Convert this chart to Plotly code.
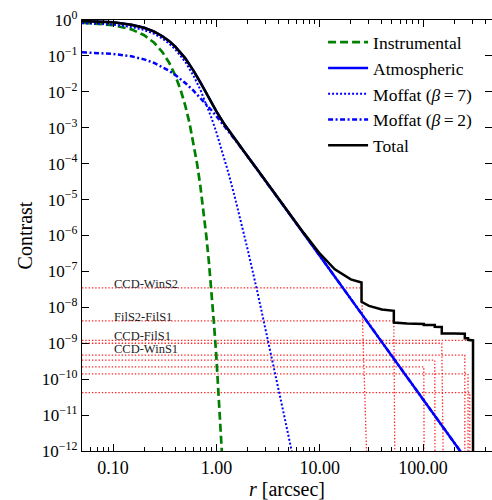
import math
import plotly.graph_objects as go

# ---------------- data ----------------
# Instrumental PSF (green dashed)
inst_r = [0.05, 0.1, 0.15, 0.2, 0.25, 0.3, 0.35, 0.4, 0.45, 0.5, 0.55, 0.6, 0.65,
          0.7, 0.75, 0.8, 0.85, 0.9, 0.95, 1.0, 1.05, 1.1, 1.15]
inst_c = [0.845, 0.718, 0.549, 0.377, 0.232, 0.128, 0.0638, 0.0284, 0.0114, 4.1e-3,
          1.32e-3, 3.84e-4, 1.0e-4, 2.34e-5, 4.9e-6, 9.25e-7, 1.57e-7, 2.4e-8, 3.2e-9,
          4.0e-10, 4.4e-11, 4.4e-12, 3.8e-13]

# Moffat beta=7 (blue dotted)
m7_r = [0.05, 0.07, 0.1, 0.15, 0.2, 0.25, 0.3, 0.35, 0.4, 0.5, 0.6, 0.7, 0.8, 0.9,
        1.0, 1.1, 1.2, 1.3, 1.5, 1.75, 2.0, 2.5, 3.0, 3.5, 4.0, 4.5, 5.0, 5.5, 6.0]
m7_c = [0.815, 0.792, 0.745, 0.643, 0.5257, 0.4093, 0.3048, 0.2186, 0.1517, 0.0678,
        0.02827, 0.0114, 4.54e-3, 1.819e-3, 7.41e-4, 3.09e-4, 1.324e-4, 5.85e-5,
        1.247e-5, 2.13e-6, 4.28e-7, 2.6e-8, 2.44e-9, 3.17e-10, 5.25e-11, 1.06e-11,
        2.53e-12, 6.8e-13, 2.06e-13]

# Moffat beta=2 (blue dash-dot)
m2_r = [0.05, 0.07, 0.1, 0.15, 0.2, 0.25, 0.3, 0.35, 0.4, 0.5, 0.6, 0.7, 0.8, 0.9,
        1.0, 1.2, 1.5, 2.0, 2.5, 3.0, 4.0, 5.0, 7.0, 10.0, 20.0, 30.0, 50.0, 100.0,
        200.0, 300.0]
m2_c = [0.1256, 0.1217, 0.1138, 0.0975, 0.0800, 0.0636, 0.0496, 0.0383, 0.0295,
        0.0176, 0.01078, 6.82e-3, 4.463e-3, 3.016e-3, 2.098e-3, 1.095e-3, 4.798e-4,
        1.602e-4, 6.73e-5, 3.29e-5, 1.057e-5, 4.354e-6, 1.14e-6, 2.746e-7, 1.72e-8,
        3.398e-9, 4.406e-10, 2.754e-11, 1.721e-12, 3.40e-13]

# Atmospheric (blue solid)
atm_r = [0.05, 0.07, 0.1, 0.15, 0.2, 0.25, 0.3, 0.35, 0.4, 0.5, 0.6, 0.7, 0.8, 0.9,
         1.0, 1.2, 1.5, 2.0, 2.5, 3.0, 4.0, 5.0, 7.0, 10.0, 20.0, 30.0, 50.0, 100.0,
         200.0, 300.0]
atm_c = [0.941, 0.913, 0.859, 0.740, 0.606, 0.473, 0.354, 0.257, 0.181, 0.0854,
         0.0390, 0.0182, 9.0e-3, 4.835e-3, 2.839e-3, 1.228e-3, 4.92e-4, 1.606e-4,
         6.73e-5, 3.29e-5, 1.057e-5, 4.354e-6, 1.14e-6, 2.746e-7, 1.72e-8, 3.398e-9,
         4.406e-10, 2.754e-11, 1.721e-12, 3.40e-13]

# Total (black solid), including the ghost steps
tot_r = [0.05, 0.07, 0.1, 0.15, 0.2, 0.25, 0.3, 0.35, 0.4, 0.5, 0.6, 0.7, 0.8, 0.9,
         1.0, 1.2, 1.5, 2.0, 2.5, 3.0, 4.0, 5.0, 7.0, 10.0, 14.0, 20.0, 25.4, 25.4,
         30.0, 40.0, 52.2, 52.2, 70.0, 101.8, 101.8, 130.0, 130.0, 152.0, 152.0,
         200.0, 254.0, 254.0, 273.0, 273.0, 284.0, 284.0, 305.0, 305.0]
tot_c = [0.941, 0.913, 0.859, 0.740, 0.606, 0.473, 0.354, 0.257, 0.181, 0.0854,
         0.0390, 0.0182, 9.0e-3, 4.835e-3, 2.839e-3, 1.228e-3, 4.92e-4, 1.606e-4,
         6.73e-5, 3.294e-5, 1.061e-5, 4.397e-6, 1.183e-6, 3.172e-7, 1.143e-7,
         5.981e-8, 4.923e-8, 1.423e-8, 1.101e-8, 8.688e-9, 7.983e-9, 3.783e-9,
         3.527e-9, 3.438e-9, 3.218e-9, 3.202e-9, 2.862e-9, 2.857e-9, 1.857e-9,
         1.854e-9, 1.853e-9, 1.383e-9, 1.383e-9, 1.243e-9, 1.243e-9, 1.2e-9,
         1.2e-9, 1e-14]

# Ghost levels (red dotted): level, radius where it stops, radius where it reaches the floor
ghost_level = [3.5e-8, 4.2e-9, 1.2e-9, 1.0e-9, 4.7e-10, 3.4e-10, 2.2e-10, 1.4e-10, 4.2e-11]
ghost_end_r = [25.4, 52.2, 305.0, 152.0, 254.0, 130.0, 101.8, 273.0, 284.0]
ghost_floor_r = [28.4, 53.3, 305.0, 156.5, 254.0, 130.5, 102.5, 273.0, 284.0]
ghost_label_text = ["CCD-WinS2", "FilS2-FilS1", "CCD-FilS1", "CCD-WinS1"]
ghost_label_logy = [-7.35, -8.277, -8.80, -9.17]

x_ticks = [0.1, 1, 10, 100]
x_ticktext = ["0.10", "1.00", "10.00", "100.00"]
y_exps = list(range(-12, 1))

# ---------------- figure ----------------
FONT = "Liberation Serif"
fig = go.Figure()

floor = 10 ** y_exps[0]
for lvl, r1, r2 in zip(ghost_level, ghost_end_r, ghost_floor_r):
    fig.add_trace(go.Scatter(
        x=[inst_r[0], r1, r2], y=[lvl, lvl, floor], mode="lines",
        line=dict(color="rgba(255,0,0,0.85)", width=1.3, dash="1.4px,1.9px"),
        showlegend=False, hoverinfo="skip"))

fig.add_trace(go.Scatter(x=inst_r, y=inst_c, mode="lines", name="Instrumental",
                         line=dict(color="#008000", width=2.7, dash="8px,4px"),
                         legendrank=1))
fig.add_trace(go.Scatter(x=m7_r, y=m7_c, mode="lines", name="Moffat (<i>β</i>\u2009=\u20097)",
                         line=dict(color="#0000ff", width=2, dash="2px,2px"),
                         legendrank=3))
fig.add_trace(go.Scatter(x=m2_r, y=m2_c, mode="lines", name="Moffat (<i>β</i>\u2009=\u20092)",
                         line=dict(color="#0000ff", width=2.5, dash="5px,2.5px,2px,2.5px"),
                         legendrank=4))
fig.add_trace(go.Scatter(x=atm_r, y=atm_c, mode="lines", name="Atmospheric",
                         line=dict(color="#0000ff", width=2.5), legendrank=2))
fig.add_trace(go.Scatter(x=tot_r, y=tot_c, mode="lines", name="Total",
                         line=dict(color="black", width=2.5), legendrank=5))

for txt, ly in zip(ghost_label_text, ghost_label_logy):
    fig.add_annotation(x=-1, y=ly, xref="x", yref="y", text=txt, showarrow=False,
                       xanchor="left", yanchor="middle", borderpad=0,
                       font=dict(family=FONT, size=12.5, color="#222"))

minor_x = [m * 10 ** e for e in range(-2, 3) for m in range(2, 10)]

fig.update_layout(
    width=492, height=500,
    margin=dict(l=82, r=0, t=20, b=49),
    paper_bgcolor="white", plot_bgcolor="white",
    font=dict(family=FONT, color="black", size=17),
    xaxis=dict(type="log", range=[math.log10(0.05), 2.668],
               showgrid=False, zeroline=False, showline=True, linecolor="black",
               linewidth=1.3, mirror="allticks", ticks="inside", ticklen=7,
               tickwidth=1, tickcolor="black",
               tickvals=x_ticks, ticktext=x_ticktext,
               tickfont=dict(size=18, family=FONT),
               minor=dict(ticks="inside", ticklen=4, tickwidth=1, tickcolor="black",
                          tickvals=minor_x, showgrid=False),
               title=dict(text="<i>r</i> [arcsec]", font=dict(size=20, family=FONT),
                          standoff=8)),
    yaxis=dict(type="log", range=[-12, 0],
               showgrid=False, zeroline=False, showline=True, linecolor="black",
               linewidth=1.3, mirror="allticks", ticks="inside", ticklen=7,
               tickwidth=1, tickcolor="black",
               tickvals=[10 ** e for e in y_exps],
               ticktext=["10<sup>%s</sup>" % (str(e).replace("-", "\u2212")) for e in y_exps],
               tickfont=dict(size=17, family=FONT),
               title=dict(text="Contrast", font=dict(size=20, family=FONT), standoff=3)),
    legend=dict(x=0.588, y=0.99, xanchor="left", yanchor="top",
                bgcolor="rgba(0,0,0,0)", borderwidth=0,
                font=dict(size=17.5, family=FONT), itemwidth=40),
)

fig.write_html("out.html")
